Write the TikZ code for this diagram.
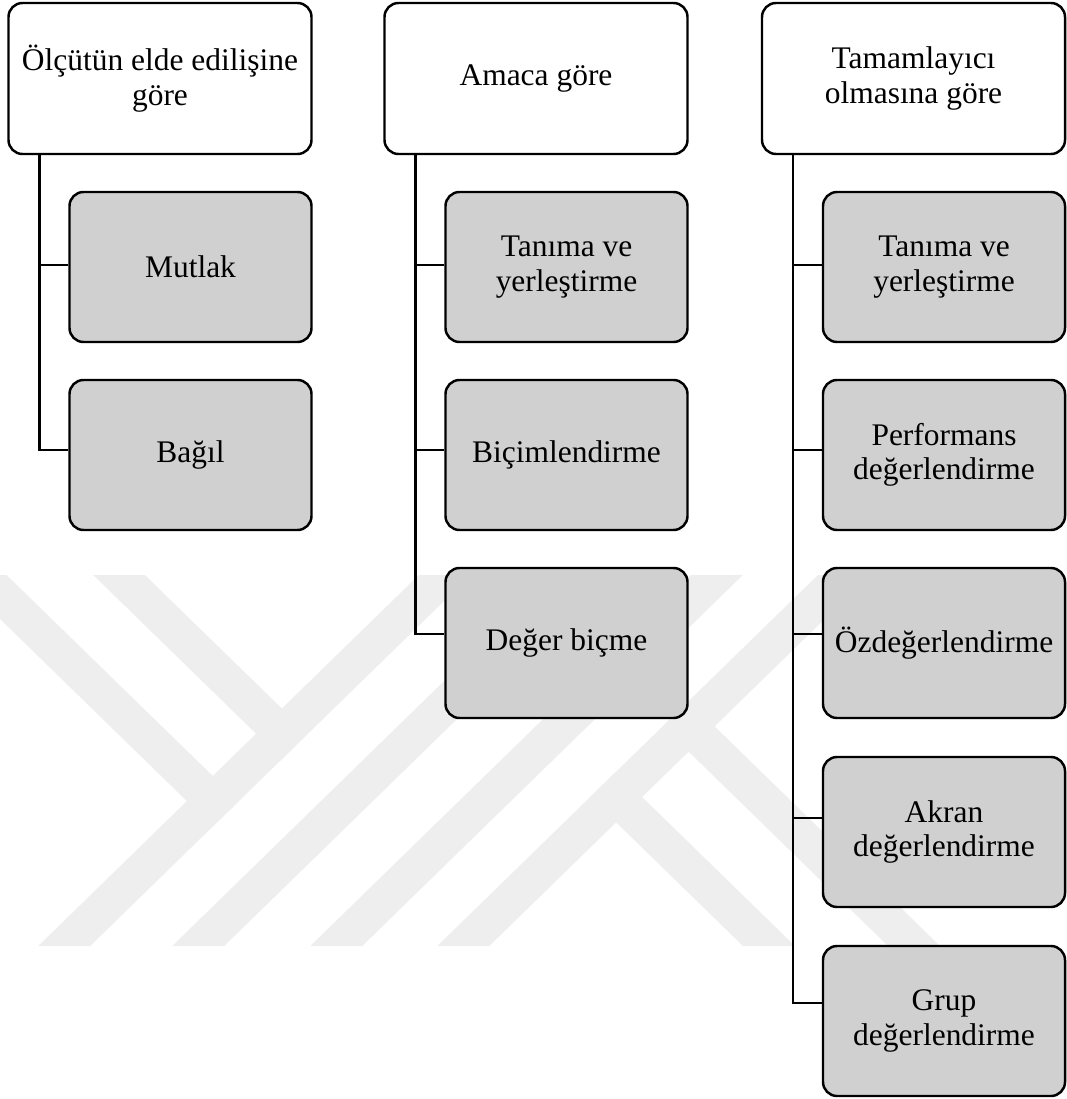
\documentclass[tikz,border=0pt]{standalone}
\usepackage{fontspec}
\setmainfont{Liberation Serif}
\usepackage{xcolor}
\usepackage{tikz}
\definecolor{boxgray}{gray}{0.815}
\definecolor{markgray}{gray}{0.935}
\tikzstyle{head box}=[fill=white, draw=black, line width=1.4pt, rounded corners=0.28cm, minimum width=6.06cm, minimum height=3.02cm, align=center, inner sep=2pt]
\tikzstyle{leaf box}=[fill=boxgray, draw=black, line width=1.4pt, rounded corners=0.28cm, minimum width=4.84cm, minimum height=3cm, align=center, inner sep=2pt]
\tikzstyle{tree edge}=[-, draw=black, line width=1.4pt]
\tikzstyle{mark band}=[fill=markgray]
\pgfdeclarelayer{nodelayer}
\pgfdeclarelayer{edgelayer}
\pgfsetlayers{main,nodelayer,edgelayer}

\begin{document}
\begin{tikzpicture}[every node/.style={font=\fontsize{17.9}{19.7}\selectfont}]
	\useasboundingbox (0,0) rectangle (21.32,-21.98);
	% faint background mark
	\begin{scope}[x=0.02cm, y=-0.02cm]
		\clip (0,575) rectangle (1066,946);
		\fill [style=mark band] (38,946) -- (90,946) -- (470.6,575) -- (418.6,575) -- cycle;
		\fill [style=mark band] (-45,575) -- (6.7,575) -- (238.7,801.1) -- (212.8,826.3) -- cycle;
		\fill [style=mark band] (93.3,575) -- (145,575) -- (307.8,733.7) -- (282,758.9) -- cycle;
		\fill [style=mark band] (172,946) -- (224,946) -- (604.6,575) -- (552.6,575) -- cycle;
		\fill [style=mark band] (310,946) -- (362,946) -- (742.6,575) -- (690.6,575) -- cycle;
		\fill [style=mark band] (437,946) -- (489,946) -- (869.6,575) -- (817.6,575) -- cycle;
		\fill [style=mark band] (590,796.9) -- (743,946) -- (795,946) -- (616,771.5) -- cycle;
		\fill [style=mark band] (662.5,726.2) -- (888,946) -- (940,946) -- (688.5,700.9) -- cycle;
	\end{scope}
	\begin{pgfonlayer}{nodelayer}
		\node [style=head box] (0) at (3.20, -1.57) {Ölçütün elde edilişine\\göre};
		\node [style=head box] (1) at (10.72, -1.57) {Amaca göre};
		\node [style=head box] (2) at (18.27, -1.57) {Tamamlayıcı\\olmasına göre};
		\node [style=leaf box] (3) at (3.81, -5.34) {Mutlak};
		\node [style=leaf box] (4) at (3.81, -9.10) {Bağıl};
		\node [style=leaf box] (5) at (11.33, -5.34) {Tanıma ve\\yerleştirme};
		\node [style=leaf box] (6) at (11.33, -9.10) {Biçimlendirme};
		\node [style=leaf box] (7) at (11.33, -12.86) {Değer biçme};
		\node [style=leaf box] (8) at (18.88, -5.34) {Tanıma ve\\yerleştirme};
		\node [style=leaf box] (9) at (18.88, -9.10) {Performans\\değerlendirme};
		\node [style=leaf box] (10) at (18.88, -12.86) {Özdeğerlendirme};
		\node [style=leaf box] (11) at (18.88, -16.64) {Akran\\değerlendirme};
		\node [style=leaf box] (12) at (18.88, -20.42) {Grup\\değerlendirme};
		\coordinate (t0) at ([xshift=0.64cm]0.south west);
		\coordinate (t1) at ([xshift=0.64cm]1.south west);
		\coordinate (t2) at ([xshift=0.64cm]2.south west);
	\end{pgfonlayer}
	\begin{pgfonlayer}{edgelayer}
		\draw [style=tree edge] (t0) |- ([yshift=0.04cm]3.west);
		\draw [style=tree edge] (t0) |- ([yshift=0.10cm]4.west);
		\draw [style=tree edge] (t1) |- ([yshift=0.04cm]5.west);
		\draw [style=tree edge] (t1) |- ([yshift=0.10cm]6.west);
		\draw [style=tree edge] (t1) |- ([yshift=0.18cm]7.west);
		\draw [style=tree edge] (t2) |- ([yshift=0.04cm]8.west);
		\draw [style=tree edge] (t2) |- ([yshift=0.10cm]9.west);
		\draw [style=tree edge] (t2) |- ([yshift=0.18cm]10.west);
		\draw [style=tree edge] (t2) |- ([yshift=0.28cm]11.west);
		\draw [style=tree edge] (t2) |- ([yshift=0.36cm]12.west);
	\end{pgfonlayer}
\end{tikzpicture}
\end{document}
